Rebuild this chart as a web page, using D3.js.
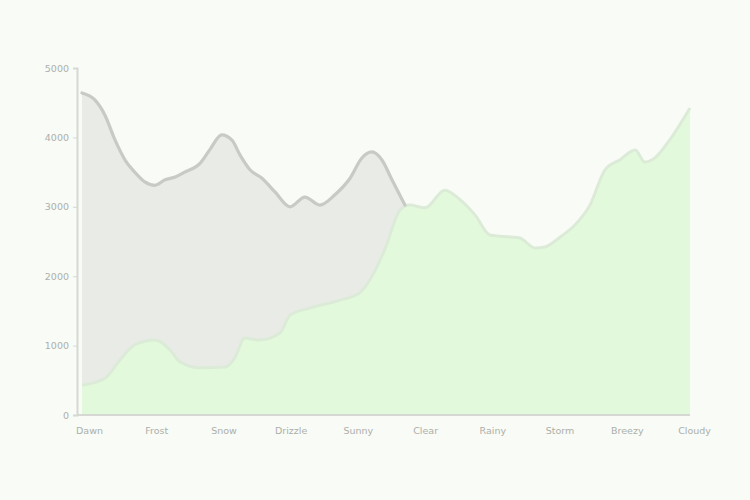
<!DOCTYPE html>
<html>
<head>
<meta charset="utf-8">
<script src="https://cdn.jsdelivr.net/npm/d3@7"></script>
<style>
  html, body { margin: 0; padding: 0; background: #f8fbf6; }
  svg { display: block; }
  .tick text { font-family: "DejaVu Sans", sans-serif; }
</style>
</head>
<body>
<svg id="chart" width="750" height="500"></svg>
<script>
// ---- data ----
const categories = ["Dawn", "Frost", "Snow", "Drizzle", "Sunny", "Clear", "Rainy", "Storm", "Breezy", "Cloudy"];
const yTicks = [0, 1000, 2000, 3000, 4000, 5000];

// grey series: position (in category units) and value
const greyPos = [0, 0.19, 0.34, 0.49, 0.64, 0.78, 0.93, 1.08, 1.23, 1.38, 1.52, 1.75, 1.89, 2.07, 2.22, 2.34, 2.49, 2.66, 2.86, 3.08, 3.30, 3.52, 3.74, 3.97, 4.14, 4.29, 4.44, 4.59, 4.78];
const greyVal = [4640, 4540, 4320, 3960, 3670, 3500, 3360, 3310, 3390, 3430, 3500, 3630, 3820, 4035, 3960, 3745, 3530, 3415, 3210, 3000, 3140, 3025, 3170, 3415, 3700, 3790, 3675, 3385, 3025];

// green series
const greenPos = [0, 0.34, 0.56, 0.78, 1.08, 1.30, 1.45, 1.75, 2.12, 2.26, 2.41, 2.63, 2.93, 3.08, 3.37, 3.82, 4.11, 4.26, 4.48, 4.71, 4.85, 5.08, 5.37, 5.60, 5.82, 6.04, 6.34, 6.48, 6.71, 6.85, 7.08, 7.30, 7.52, 7.74, 7.96, 8.19, 8.33, 8.48, 8.70, 9.0];
const greenVal = [430, 530, 790, 1010, 1080, 940, 765, 680, 690, 820, 1110, 1080, 1180, 1440, 1540, 1655, 1760, 1945, 2380, 2955, 3025, 2985, 3240, 3100, 2880, 2595, 2565, 2550, 2405, 2420, 2565, 2740, 3025, 3530, 3675, 3820, 3645, 3705, 3965, 4425];

// ---- chart ----
const svg = d3.select("#chart");
const mLeft = 77, mRight = 690, mTop = 68, mBottom = 415;

const x = d3.scaleLinear().domain([0, categories.length - 1]).range([82, 690]);
const xLab = d3.scalePoint().domain(categories).range([89, 694]);
const y = d3.scaleLinear().domain([0, 5000]).range([mBottom, mTop]);

const grey = greyPos.map((p, i) => ({ p, v: greyVal[i] }));
const green = greenPos.map((p, i) => ({ p, v: greenVal[i] }));

const curve = d3.curveMonotoneX;
const area = d3.area().x(d => x(d.p)).y0(y(0)).y1(d => y(d.v)).curve(curve);
const line = d3.line().x(d => x(d.p)).y(d => y(d.v)).curve(curve);

svg.append("path").datum(grey).attr("d", area).attr("fill", "#e9ebe7");
svg.append("path").datum(green).attr("d", area).attr("fill", "#e3f9dc");
svg.append("path").datum(green).attr("d", line)
  .attr("fill", "none").attr("stroke", "#dcebd7").attr("stroke-width", 3);
svg.append("path").datum(grey).attr("d", line)
  .attr("fill", "none").attr("stroke", "#c8cac6").attr("stroke-width", 3.2)
  .attr("stroke-linecap", "round");

// axes
const yAxis = svg.append("g").attr("transform", `translate(${mLeft},0)`)
  .call(d3.axisLeft(y).tickValues(yTicks).tickFormat(d3.format("d")).tickSize(4).tickPadding(4));
const xAxis = svg.append("g").attr("transform", `translate(0,${mBottom})`)
  .call(d3.axisBottom(xLab).tickSize(0).tickPadding(12));

[yAxis, xAxis].forEach(g => {
  g.select(".domain").attr("stroke", "#d6d8d4").attr("stroke-width", 2);
  g.selectAll(".tick line").attr("stroke", "#d6d8d4");
  g.selectAll(".tick text").attr("fill", "#adafab").attr("font-size", 9.5);
});
xAxis.select(".domain").attr("d", `M${mLeft},0H${mRight}`);
</script>
</body>
</html>
